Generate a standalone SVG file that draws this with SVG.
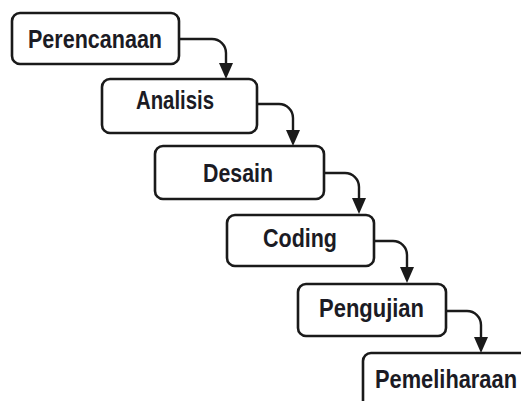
<svg xmlns="http://www.w3.org/2000/svg" width="521" height="401" viewBox="0 0 521 401">
<style>
.box{fill:#fff;stroke:#1a1a1a;stroke-width:2.6}
.lbl{font-family:"Liberation Sans",Arial,sans-serif;font-weight:bold;font-size:25px;fill:#1b1b24;text-anchor:middle}
.con{fill:none;stroke:#1a1a1a;stroke-width:2.4}
</style>
<defs>
<marker id="ah" markerUnits="userSpaceOnUse" markerWidth="17" markerHeight="15" refX="0" refY="7" orient="auto" viewBox="0 0 17 14" overflow="visible">
<path d="M0,0 L16,7 L0,14 z" fill="#1a1a1a"/>
</marker>
</defs>
<rect width="521" height="401" fill="#fff"/>
<g id="connectors">
<path class="con" d="M179,39 H212 A14,14 0 0 1 226,53 V63" marker-end="url(#ah)"/>
<path class="con" d="M257,104 H279 A14,14 0 0 1 293,118 V130" marker-end="url(#ah)"/>
<path class="con" d="M324,173 H345 A14,14 0 0 1 359,187 V198" marker-end="url(#ah)"/>
<path class="con" d="M374,241 H393 A14,14 0 0 1 407,255 V267" marker-end="url(#ah)"/>
<path class="con" d="M446,311 H467 A14,14 0 0 1 481,325 V337" marker-end="url(#ah)"/>
</g>
<g id="perencanaan">
<rect class="box" x="12" y="13" width="167" height="51" rx="8"/>
<text class="lbl" x="95" y="48" textLength="134" lengthAdjust="spacingAndGlyphs">Perencanaan</text>
</g>
<g id="analisis">
<rect class="box" x="102" y="79" width="155" height="54" rx="8"/>
<text class="lbl" x="175" y="109" textLength="78" lengthAdjust="spacingAndGlyphs">Analisis</text>
</g>
<g id="desain">
<rect class="box" x="155" y="146" width="169" height="53" rx="8"/>
<text class="lbl" x="238" y="182" textLength="70" lengthAdjust="spacingAndGlyphs">Desain</text>
</g>
<g id="coding">
<rect class="box" x="227" y="215" width="147" height="51" rx="8"/>
<text class="lbl" x="300" y="247" textLength="74" lengthAdjust="spacingAndGlyphs">Coding</text>
</g>
<g id="pengujian">
<rect class="box" x="298" y="284" width="148" height="52" rx="8"/>
<text class="lbl" x="371.5" y="317" textLength="105" lengthAdjust="spacingAndGlyphs">Pengujian</text>
</g>
<g id="pemeliharaan">
<rect class="box" x="363" y="353" width="170" height="60" rx="8"/>
<text class="lbl" x="446" y="388" textLength="142" lengthAdjust="spacingAndGlyphs">Pemeliharaan</text>
</g>
</svg>
